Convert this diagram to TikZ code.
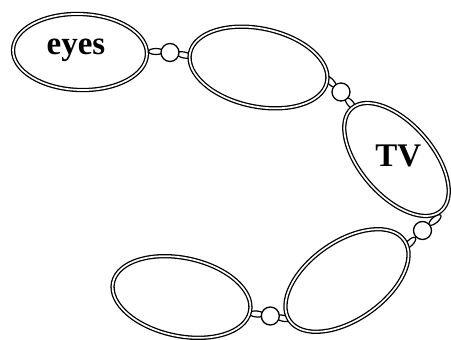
\documentclass[tikz,border=0pt]{standalone}
\usepackage{fontspec}
\setmainfont{Liberation Serif}
\usetikzlibrary{shapes.geometric}
\begin{document}
\begin{tikzpicture}[x=1pt,y=1pt,
  bigring/.style={ellipse, draw, double, line width=1.3pt, double distance=1.7pt, fill=white, inner sep=0pt, outer sep=0pt},
  ringnode/.style={circle, draw, line width=1.3pt, fill=white, inner sep=0pt, minimum size=18pt},
  linknode/.style={ellipse, draw, line width=1.2pt, inner sep=0pt, minimum width=15pt, minimum height=6pt},
  lbl/.style={font=\fontsize{33}{36}\selectfont\bfseries, inner sep=0pt, anchor=base}]
\useasboundingbox (0,0) rectangle (451,-340);
% links
\node[linknode, rotate=0]   (l1a) at (156,-51.5) {};
\node[linknode, rotate=-12] (l1b) at (184,-55) {};
\node[linknode, rotate=-45] (l2a) at (330.5,-81.5) {};
\node[linknode, rotate=-50] (l2b) at (350.5,-103.5) {};
\node[linknode, rotate=40]  (l3a) at (435,-220) {};
\node[linknode, rotate=45]  (l3b) at (410,-243) {};
\node[linknode, rotate=-5]  (l4a) at (256.7,-314) {};
\node[linknode, rotate=-12] (l4b) at (283.3,-318.3) {};
% rings
\node[ringnode] (r1) at (170,-52.5) {};
\node[ringnode] (r2) at (341,-92) {};
\node[ringnode] (r3) at (422.5,-230.5) {};
\node[ringnode] (r4) at (270.3,-316) {};
% big ellipses
\node[bigring, minimum width=134pt, minimum height=76pt, rotate=-2]  (e1) at (80,-52) {};
\node[bigring, minimum width=140pt, minimum height=78pt, rotate=-12] (e2) at (258.5,-67.5) {};
\node[bigring, minimum width=136pt, minimum height=72pt, rotate=-49] (e3) at (396.5,-159.5) {};
\node[bigring, minimum width=140pt, minimum height=78pt, rotate=35]  (e4) at (347,-280.5) {};
\node[bigring, minimum width=140pt, minimum height=78pt, rotate=-12] (e5) at (181.5,-297) {};
% labels
\node[lbl] (t1) at (76,-55) {eyes};
\node[lbl] (t2) at (398.3,-166.7) {TV};
\end{tikzpicture}
\end{document}
